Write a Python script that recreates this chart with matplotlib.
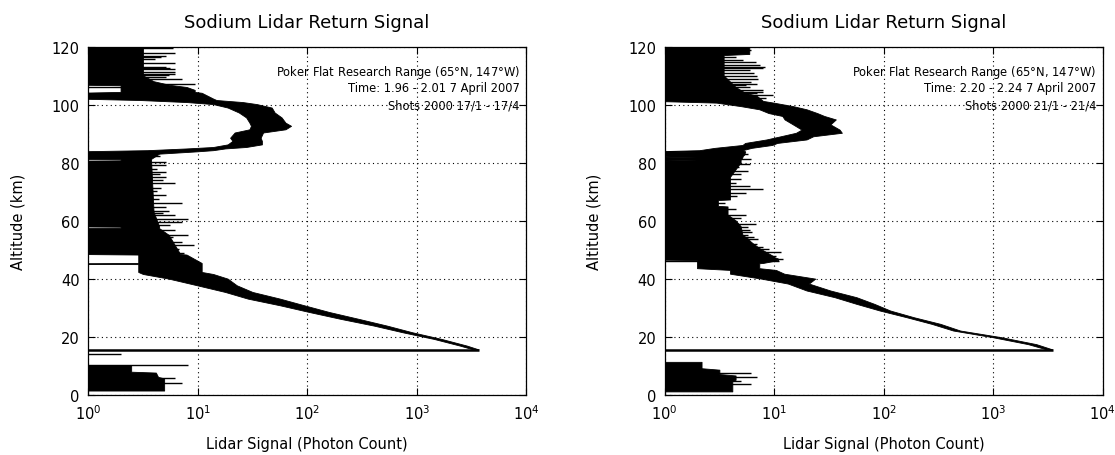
import numpy as np
import matplotlib
matplotlib.use("Agg")
import matplotlib.pyplot as plt

# ---- data (altitude km, photon-count envelope) ----
nan = np.nan

# left panel: 1.96 - 2.01 UT
left_alt = [1.3, 5.5, 6.0, 7.5, 7.8, 10.0, 10.2,
            15.5, 16.8, 19.1, 21.4, 23.7, 26.0, 28.4, 30.7, 33.0, 35.3, 37.6,
            39.9, 41.5, 42.2, 44.9, 45.0, 45.2, 45.3, 48.2, 48.4, 55.0,
            57.3, 57.4, 57.8, 57.9, 63.0, 80.6, 80.7, 81.1, 81.2, 83.0, 83.8,
            84.2, 84.8, 85.3, 86.2, 87.4, 88.5, 90.3, 91.4, 92.6, 93.7, 95.5,
            97.2, 98.9, 100.1, 100.8, 101.5, 102.0, 104.0, 104.3, 105.0,
            106.0, 106.6, 106.8, 108.0, 110.0, 120.0]
left_lo = [.8, .8, .8, .8, .8, .8, nan,
           3300, 2500, 1450, 750, 410, 205, 105, 57, 29, 18, 10,
           5.5, 3.2, 2.9, 2.9, .8, .8, 2.9, 2.9, .8, .8,
           .8, 2.0, 2.0, .8, .8, .8, 2.0, 2.0, .8, .8, .8,
           3.5, 8, 14, 19, 21, 20, 22, 30, 31, 30, 28,
           24, 19, 14, 8, 3, .8, .8, 2.0, 2.0,
           2.0, 2.0, .8, .8, .8, .8]
left_hi = [5.0, 5.0, 4.4, 4.2, 2.5, 2.5, nan,
           3700, 2900, 1700, 920, 540, 300, 160, 95, 57, 32, 23,
           19, 14, 11, 11, 11, 11, 11, 8, 7, 5.5,
           4.5, 4.5, 4.5, 4.5, 4.0, 3.8, 3.8, 3.8, 3.8, 4.5, 10,
           14, 18, 28, 39, 39, 38, 40, 64, 72, 64, 59,
           51, 48, 35, 26, 15, 14, 11, 9.5, 9.5,
           8, 6, 5.5, 4, 3.2, 3.2]
left_spike_alt = [119.5, 118.0, 117.0, 116.5, 115.8, 114.3, 113.2, 112.8,
                  112.3, 111.5, 110.7, 110.2, 109.6, 108.8, 107.3, 106.1,
                  82.5, 80.4, 79.3, 78.0, 77.0, 76.2, 75.2, 74.0, 72.9, 71.5,
                  70.2, 68.9, 67.5, 66.0, 64.8, 63.5, 62.8, 61.9, 60.8, 59.6,
                  58.5, 56.7, 55.0, 54.5, 53.8, 52.7, 51.5, 50.3, 49.5, 49.0,
                  10.2, 14.0, 5.8, 4.0]
left_spike_val = [6.0, 6.2, 5.1, 4.6, 4.1, 6.2, 5.1, 5.6,
                  6.2, 6.2, 6.2, 5.5, 5.1, 7.2, 9.4, 5.1,
                  4.5, 5.1, 5.1, 4.3, 5.1, 4.5, 5.1, 4.8, 6.2, 4.6,
                  4.3, 5.1, 4.4, 7.2, 5.1, 5.5, 4.8, 6.2, 8.2, 7.2,
                  5.6, 6.2, 8.2, 6.0, 5.1, 7.2, 9.3, 6.8, 6.5, 7.5,
                  8.2, 2.0, 6.2, 7.2]
left_gate = (15.4, 3700)
left_info = ["Poker Flat Research Range (65$\\degree$N, 147$\\degree$W)",
             "Time: 1.96 - 2.01 7 April 2007",
             "Shots 2000 17/1 - 17/4"]

# right panel: 2.20 - 2.24 UT
right_alt = [1.0, 4.5, 5.0, 6.5, 7.0, 8.5, 9.0, 11.2, 11.4,
             15.5, 17.3, 19.7, 22.0, 24.3, 26.6, 28.9, 31.2, 33.5, 35.8, 38.2,
             39.9, 41.6, 42.9, 43.5, 45.2, 45.3, 46.3, 46.5, 46.6, 46.7, 46.8,
             47.4, 47.5, 47.6, 48.6, 50.3, 52.0, 53.1, 53.2, 53.4, 55.0, 58.0,
             60.0, 62.0, 64.8, 65.0, 67.0, 67.2, 75.0, 80.0, 80.6, 80.7, 80.9,
             81.8, 81.9, 82.1, 82.7, 82.8, 83.0, 83.5, 83.6, 83.8,
             84.2, 85.0, 86.0, 86.7, 87.9, 89.0, 90.2, 91.3, 93.1, 94.8, 96.0,
             97.0, 98.3, 99.4, 100.6, 101.2, 103.0, 104.0, 106.0, 110.0,
             117.0, 117.4, 120.0]
right_lo = [.8, .8, .8, .8, .8, .8, .8, .8, nan,
            3100, 2100, 1000, 435, 277, 163, 93, 57, 36, 20, 13.5,
            7.7, 4.0, 4.0, 2.0, 2.0, 2.0, 2.0, .8, .8, 2.0, .8,
            .8, 2.0, .8, .8, .8, .8, .8, 2.0, .8, .8, .8,
            .8, .8, .8, .8, .8, .8, .8, .8, .8, 2.0, .8,
            .8, 2.0, .8, .8, 2.0, .8, .8, 2.0, .8,
            2.1, 2.9, 5.2, 5.5, 8.6, 11.6, 16, 18, 15, 12.6, 12,
            9, 7.4, 5, 3, .8, .8, .8, .8, .8,
            .8, .8, .8]
right_hi = [4.2, 4.2, 4.5, 4.5, 3.2, 3.2, 2.2, 2.2, nan,
            3500, 2500, 1200, 505, 333, 190, 116, 83, 57, 33, 21,
            24, 12.5, 10.5, 7.4, 7.4, 8, 11, 11, 11, 11, 11,
            10, 10, 10, 9, 7.5, 6.5, 6, 6, 6, 5.2, 5.0,
            4.5, 3.8, 3.8, 3.1, 3.1, 4.0, 4.0, 5.0, 5.0, 5.0, 5.0,
            5.2, 5.2, 5.2, 5.4, 5.4, 5.4, 5.5, 5.5, 5.5,
            5.2, 6.3, 9.7, 10.8, 20, 23, 42, 40, 33, 37, 29,
            25, 20, 15, 10, 8, 7, 5.5, 4.5, 3.5,
            3.5, 6.0, 6.0]
right_spike_alt = [119.0, 118.0, 116.4, 115.5, 114.7, 113.8, 113.0, 112.7,
                   111.9, 111.0, 110.1, 109.0, 108.0, 107.3, 106.8, 106.1,
                   105.0, 104.5, 104.0, 103.4, 102.5,
                   83.0, 81.5, 79.5, 78.5, 77.2, 76.0, 74.5, 73.0, 72.0,
                   71.1, 69.5, 68.5, 66.0, 64.0, 62.0, 61.0, 59.0, 58.0,
                   57.0, 56.0, 55.0, 54.3, 53.6, 52.0, 51.0, 50.3, 49.2,
                   48.0, 47.0, 46.0,
                   7.5, 6.1, 4.8, 3.8]
right_spike_val = [6.2, 5.8, 4.5, 5.2, 6.9, 7.5, 8.2, 8.0,
                   6.0, 6.5, 7.0, 7.1, 6.2, 7.0, 5.5, 6.0,
                   8.0, 8.0, 7.0, 9.8, 8.5,
                   5.8, 6.2, 6.0, 4.8, 5.8, 5.0, 5.0, 4.5, 6.0,
                   8.0, 5.5, 4.6, 3.6, 4.5, 5.5, 5.0, 6.9, 5.8,
                   6.0, 6.3, 5.8, 6.5, 7.2, 7.0, 8.0, 9.0, 11.6,
                   10.5, 12.0, 11.0,
                   6.2, 7.0, 5.0, 6.2]
right_gate = (15.4, 3500)
right_info = ["Poker Flat Research Range (65$\\degree$N, 147$\\degree$W)",
              "Time: 2.20 - 2.24 7 April 2007",
              "Shots 2000 21/1 - 21/4"]

x_ticks = [1, 10, 100, 1000, 10000]
y_ticks = [0, 20, 40, 60, 80, 100, 120]

plt.rcParams['font.family'] = ['DejaVu Sans']

fig = plt.figure(figsize=(11.15, 4.56), dpi=100)
ax1 = fig.add_axes([0.079, 0.132, 0.393, 0.763])
ax2 = fig.add_axes([0.596, 0.132, 0.393, 0.763])


def draw_panel(ax, alt, lo, hi, s_alt, s_val, gate, info):
    ax.fill_betweenx(alt, lo, hi, color='k', lw=0.6, zorder=3)
    ax.hlines(s_alt, 0.8, s_val, color='k', lw=1.0, zorder=3)
    ax.hlines(gate[0], 0.8, gate[1], color='k', lw=1.8, zorder=3)

    ax.set_xscale('log')
    ax.set_xlim(1, 1e4)
    ax.set_ylim(0, 120)
    ax.set_xticks(x_ticks)
    ax.set_yticks(y_ticks)
    ax.minorticks_off()
    ax.tick_params(direction='in', length=5, width=0.8, top=True, right=True,
                   labelsize=10.5, pad=6)
    ax.grid(True, color='k', ls=(0, (1, 3)), lw=0.8, zorder=1)
    ax.set_axisbelow(True)
    for sp in ax.spines.values():
        sp.set_linewidth(0.9)

    ax.set_title("Sodium Lidar Return Signal", fontsize=13, pad=14)
    ax.set_xlabel("Lidar Signal (Photon Count)", fontsize=10.5, labelpad=10)
    ax.set_ylabel("Altitude (km)", fontsize=10.5, labelpad=19)

    for i, line in enumerate(info):
        ax.text(0.985, 0.93 - i * 0.048, line, transform=ax.transAxes,
                ha='right', va='center', fontsize=8.3, zorder=4)


draw_panel(ax1, left_alt, left_lo, left_hi, left_spike_alt, left_spike_val,
           left_gate, left_info)
draw_panel(ax2, right_alt, right_lo, right_hi, right_spike_alt,
           right_spike_val, right_gate, right_info)

fig.savefig("out.png", dpi=100)
